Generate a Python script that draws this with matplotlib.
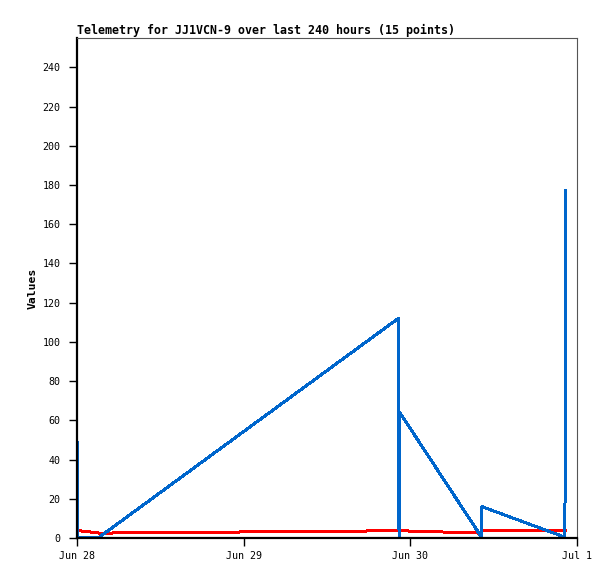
import matplotlib
matplotlib.use("Agg")
import matplotlib.pyplot as plt
import pandas as pd

plt.rcParams["path.simplify"] = False

# telemetry samples
times = [
    "2024-06-28 00:02", "2024-06-28 00:05", "2024-06-28 00:08",
    "2024-06-28 03:14", "2024-06-29 22:16", "2024-06-29 22:18",
    "2024-06-29 22:27", "2024-06-29 22:29", "2024-06-30 10:11",
    "2024-06-30 10:19", "2024-06-30 22:16", "2024-06-30 22:20",
]
blue_vals = [24.5, 48.6, 0.0, 0.5, 112.0, 8.0, 0.5, 64.0, 0.8, 16.0, 0.4, 177.0]
red_vals = [3.8, 3.8, 3.8, 2.5, 3.7, 3.7, 3.7, 3.7, 2.5, 3.6, 3.6, 3.6]

x_ticks = ["2024-06-28", "2024-06-29", "2024-06-30", "2024-07-01"]
x_labels = ["Jun 28", "Jun 29", "Jun 30", "Jul 1"]
y_ticks = list(range(0, 241, 20))

title = "Telemetry for JJ1VCN-9 over last 240 hours (15 points)"

t = pd.to_datetime(times)
ticks = pd.to_datetime(x_ticks)

fig = plt.figure(figsize=(6.15, 5.79), dpi=100)
ax = fig.add_axes([0.1252, 0.0708, 0.8130, 0.8636])

ax.plot(t, red_vals, color="#ff0000", linewidth=1.44, antialiased=False)
ax.plot(t, blue_vals, color="#0066cc", linewidth=1.44, antialiased=False)

ax.set_xlim(ticks[0], ticks[-1])
ax.set_ylim(0, 255)
ax.set_xticks(ticks)
ax.set_xticklabels(x_labels)
ax.set_yticks(y_ticks)

mono = "DejaVu Sans Mono"
for lab in ax.get_xticklabels() + ax.get_yticklabels():
    lab.set_family(mono)
    lab.set_fontsize(7.2)

ax.tick_params(axis="both", direction="out", length=6, width=1, color="black")
ax.tick_params(axis="y", pad=6)
ax.tick_params(axis="x", pad=3)

for side in ["left", "bottom"]:
    ax.spines[side].set_color("black")
    ax.spines[side].set_linewidth(1.6)
for side in ["top", "right"]:
    ax.spines[side].set_color("#555555")
    ax.spines[side].set_linewidth(0.8)

ax.set_ylabel("Values", family=mono, fontweight="bold", fontsize=8.2, labelpad=3)
ax.set_title(title, loc="left", family=mono, fontweight="bold", fontsize=8.4, pad=3)

fig.savefig("out.png", dpi=100)
